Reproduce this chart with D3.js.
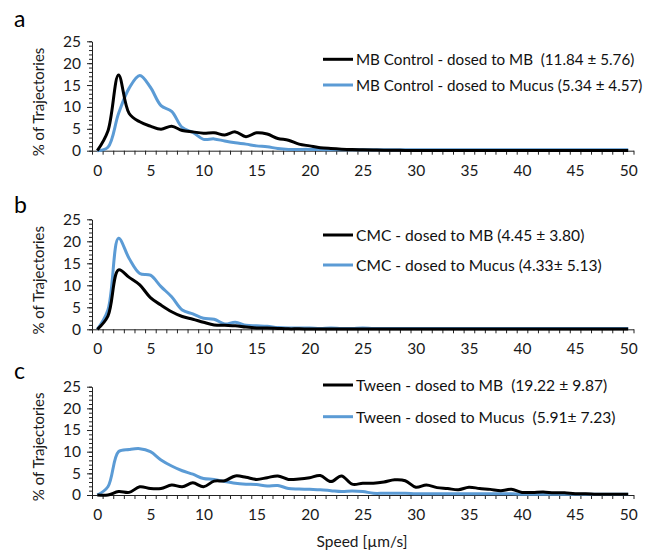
<!DOCTYPE html>
<html>
 <head>
    <script type="text/javascript" src="https://d3js.org/d3.v7.min.js"></script>
    <style>
      body { margin: 0; background: #fff; }
      text { font-family: Lato, "Open Sans", sans-serif; }
    </style>
 </head>
 <body>
    <div id="my_dataviz"></div>
<script>

// speed categories (um/s) on the x axis
var speeds = [0,1,2,3,4,5,6,7,8,9,10,11,12,13,14,15,16,17,18,19,20,21,22,23,24,25,
              26,27,28,29,30,31,32,33,34,35,36,37,38,39,40,41,42,43,44,45,46,47,48,49,50];
var xTickLabels = [0,5,10,15,20,25,30,35,40,45,50];
var yTickLabels = [0,5,10,15,20,25];

// panel a - MB Control
var aMB = [0,4.5,17.3,8.5,6.6,5.6,4.9,5.6,4.6,4.3, 4.0,4.1,3.6,4.3,3.2,4.1,3.8,2.8,2.4,1.5,
           1.1,0.7,0.5,0.35,0.25,0.2,0.15,0.1,0.1,0.05, 0.05,0.05,0.05,0.05,0.05,0.05,0.05,0.05,0.05,0.05,
           0.05,0.05,0.05,0.05,0.05,0.05,0.05,0.05,0.05,0.05,0.05];
var aMucus = [0,0.8,8.5,14.3,17.2,14.5,10.3,9.0,5.3,4.2, 2.6,2.7,2.2,1.8,1.5,1.1,0.9,0.5,0.3,0.3,
              0.3,0.25,0.2,0.2,0.2,0.2,0.2,0.2,0.2,0.2, 0.2,0.2,0.2,0.2,0.2,0.2,0.2,0.2,0.2,0.2,
              0.2,0.2,0.2,0.2,0.2,0.2,0.2,0.2,0.2,0.2,0.2];

// panel b - CMC
var bMB = [0,3.0,13.5,11.8,10.1,7.2,5.5,4.0,2.9,2.3, 1.6,1.0,0.9,0.8,0.5,0.3,0.3,0.2,0.1,0.1,
           0.05,0.05,0.05,0.05,0.05,0.05,0.05,0.05,0.05,0.05, 0.05,0.05,0.05,0.05,0.05,0.05,0.05,0.05,0.05,0.05,
           0.05,0.05,0.05,0.05,0.05,0.05,0.05,0.05,0.05,0.05,0.05];
var bMucus = [0,4.4,20.7,16.1,12.7,12.3,9.7,7.4,4.4,3.5, 2.5,2.3,1.2,1.6,0.9,0.8,0.7,0.4,0.3,0.3,
              0.3,0.2,0.3,0.2,0.2,0.3,0.2,0.2,0.2,0.2, 0.2,0.2,0.2,0.2,0.2,0.2,0.2,0.2,0.2,0.2,
              0.2,0.2,0.2,0.2,0.2,0.2,0.2,0.2,0.2,0.2,0.2];

// panel c - Tween
var cMB = [0,0,0.8,0.6,1.9,1.5,1.5,2.3,1.9,2.8, 1.9,3.2,3.3,4.4,4.1,3.6,4.0,4.4,3.6,3.7,
           4.0,4.5,3.1,4.4,2.5,2.7,2.7,3.0,3.5,3.3, 1.8,2.3,1.7,1.5,1.2,1.8,1.5,1.3,1.0,1.3,
           0.6,0.6,0.7,0.5,0.5,0.3,0.3,0.2,0.2,0.2,0.2];
var cMucus = [0,1.9,10.0,10.5,10.7,10.0,8.1,6.7,5.6,4.8, 3.8,3.6,3.1,2.7,2.5,2.4,2.1,2.2,1.5,1.4,
              1.3,1.2,1.0,0.8,0.9,0.8,0.4,0.4,0.4,0.4, 0.3,0.3,0.3,0.3,0.3,0.3,0.3,0.3,0.3,0.3,
              0.2,0.2,0.2,0.2,0.2,0.2,0.2,0.2,0.2,0.2,0.2];

var legendA = ["MB Control - dosed to MB  (11.84 \u00b1 5.76)", "MB Control - dosed to Mucus (5.34 \u00b1 4.57)"];
var legendB = ["CMC - dosed to MB (4.45 \u00b1 3.80)", "CMC - dosed to Mucus (4.33\u00b1 5.13)"];
var legendC = ["Tween - dosed to MB  (19.22 \u00b1 9.87)", "Tween - dosed to Mucus  (5.91\u00b1 7.23)"];

var black = "#000000", blue = "#5b9bd5";

var svg = d3.select("#my_dataviz")
            .append("svg")
            .attr("width", 651)
            .attr("height", 551);

// shared x scale, category axis padded half a step each side
var x = d3.scaleLinear().domain([-0.5, 50.5]).range([92, 633.5]);

function drawPanel(letter, top, bottom, mb, mucus, legend, legY, letterY, legSize) {
    var y = d3.scaleLinear().domain([0, 25]).range([bottom, top]);

    // minor y ticks
    svg.append("g")
       .attr("transform", "translate(" + x(-0.5) + ",0)")
       .call(d3.axisLeft(y).tickValues(d3.range(0, 26, 1)).tickSize(3).tickFormat(""))
       .call(function(g) { g.select(".domain").remove(); });

    // major y ticks + labels
    svg.append("g")
       .attr("class", "y_axis")
       .attr("transform", "translate(" + x(-0.5) + ",0)")
       .call(d3.axisLeft(y).tickValues(yTickLabels).tickSize(5).tickSizeOuter(0).tickPadding(6));

    // x ticks sit between the categories
    svg.append("g")
       .attr("transform", "translate(0," + bottom + ")")
       .call(d3.axisBottom(x).tickValues(d3.range(-0.5, 51, 1)).tickSize(4).tickSizeOuter(0).tickFormat(""));

    svg.append("g")
       .attr("class", "x_axis")
       .attr("transform", "translate(0," + bottom + ")")
       .call(d3.axisBottom(x).tickValues(xTickLabels).tickSize(0).tickPadding(14))
       .call(function(g) { g.select(".domain").remove(); });

    svg.selectAll(".tick text").attr("font-size", "15.5px").attr("fill", "#1a1a1a").attr("font-family", "Lato");
    svg.selectAll(".domain, .tick line").attr("stroke", "#222");

    var line = d3.line()
      .x(function(d, i) { return x(speeds[i]); })
      .y(function(d) { return y(d); })
      .curve(d3.curveCatmullRom.alpha(0.5));

    svg.append("path")
       .attr("d", line(mucus))
       .attr("fill", "none")
       .attr("stroke", blue)
       .attr("stroke-width", 3)
       .attr("stroke-linejoin", "round");

    svg.append("path")
       .attr("d", line(mb))
       .attr("fill", "none")
       .attr("stroke", black)
       .attr("stroke-width", 3)
       .attr("stroke-linejoin", "round");

    // y title
    svg.append("text")
       .attr("transform", "translate(44," + ((top + bottom) / 2 + 6) + ") rotate(-90)")
       .style("text-anchor", "middle")
       .attr("font-size", "15px")
       .attr("fill", "#1a1a1a")
       .text("% of Trajectories");

    // panel letter
    svg.append("text")
       .attr("x", 14)
       .attr("y", letterY)
       .attr("font-family", "'Liberation Sans', Arial, sans-serif")
       .attr("font-size", "23px")
       .text(letter);

    // legend
    var cols = [black, blue];
    legend.forEach(function(t, i) {
        svg.append("line")
           .attr("x1", 323).attr("x2", 353)
           .attr("y1", legY[i]).attr("y2", legY[i])
           .attr("stroke", cols[i])
           .attr("stroke-width", 3);
        svg.append("text")
           .attr("x", 356)
           .attr("y", legY[i] + 6)
           .attr("font-size", legSize)
           .attr("fill", "#111")
           .style("white-space", "pre")
           .text(t);
    });
}

drawPanel("a", 41.3, 150.7, aMB, aMucus, legendA, [59.3, 85], 27, "15.2px");
drawPanel("b", 219.3, 329.3, bMB, bMucus, legendB, [235, 265], 213, "15.6px");
drawPanel("c", 386.7, 495, cMB, cMucus, legendC, [385, 416.7], 379, "15.6px");

// text label for the x axis
svg.append("text")
   .attr("x", 362)
   .attr("y", 547)
   .style("text-anchor", "middle")
   .attr("font-size", "15.5px")
   .attr("fill", "#1a1a1a")
   .text("Speed [\u00b5m/s]");

</script>
 </body>
</html>
